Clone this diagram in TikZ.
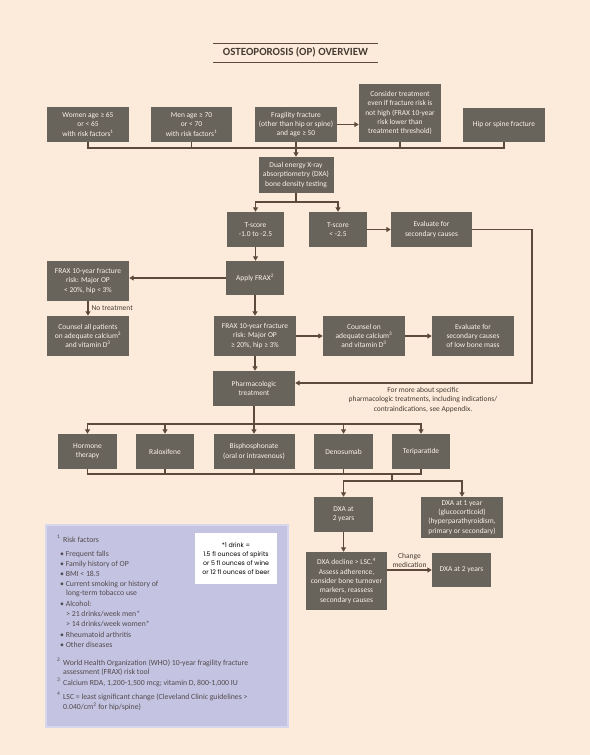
\documentclass[tikz,border=0pt]{standalone}
\usepackage{fontspec}
\setmainfont{Carlito}
\newfontfamily\drinkfont{Poppins}
\usetikzlibrary{arrows.meta}
\definecolor{bgc}{RGB}{252,235,219}
\definecolor{boxc}{RGB}{104,99,91}
\definecolor{boxtext}{RGB}{250,242,232}
\definecolor{linec}{RGB}{94,74,60}
\definecolor{legfill}{RGB}{196,196,226}
\definecolor{legborder}{RGB}{214,214,236}
\definecolor{legtext}{RGB}{82,74,76}
\definecolor{titlec}{RGB}{70,60,52}
\newcommand{\boxfont}{\fontsize{7.5}{9.4}\selectfont}
\newcommand{\legfont}{\fontsize{7.8}{9.4}\selectfont}
\tikzset{
  box/.style={fill=boxc,text=boxtext,align=center,inner sep=1bp,font=\boxfont},
  conn/.style={draw=linec,line width=1.1bp},
  arr/.style={conn,-{Triangle[width=5bp,length=4.5bp]}},
  legline/.style={anchor=west,inner sep=0pt,text=legtext,font=\legfont},
}
\begin{document}
\begin{tikzpicture}[x=1bp,y=-1bp]
\useasboundingbox (0,0) rectangle (590,755);
\fill[bgc] (0,0) rectangle (590,755);

% title
\node[font=\fontsize{11}{13}\selectfont\bfseries,text=titlec] (title) at (295.5,52.5) {OSTEOPOROSIS (OP) OVERVIEW};
\coordinate (tl1) at (213,43); \coordinate (tr1) at (378,43);
\coordinate (tl2) at (213,62); \coordinate (tr2) at (378,62);
\draw[draw=linec,line width=0.8bp] (tl1) -- (tr1);
\draw[draw=linec,line width=0.8bp] (tl2) -- (tr2);

% top row
\node[box,minimum width=82bp,minimum height=35bp] (women) at (88,124.5) {Women age ≥ 65\\or < 65\\with risk factors\textsuperscript{1}};
\node[box,minimum width=81bp,minimum height=35bp] (men) at (191.5,124.5) {Men age ≥ 70\\or < 70\\with risk factors\textsuperscript{1}};
\node[box,minimum width=82bp,minimum height=35bp] (frag) at (296,124.5) {Fragility fracture\\(other than hip or spine)\\and age ≥ 50};
\node[box,minimum width=82bp,minimum height=58bp] (consider) at (400,113) {Consider treatment\\even if fracture risk is\\not high (FRAX 10-year\\risk lower than\\treatment threshold)};
\node[box,minimum width=82bp,minimum height=34bp] (hip) at (504,125) {Hip or spine fracture};

\node[box,minimum width=75bp,minimum height=36bp] (dxa) at (296,175) {Dual energy X-ray\\absorptiometry (DXA)\\bone density testing};
\node[box,minimum width=57bp,minimum height=35bp] (ts1) at (255.5,229.5) {T-score\\-1.0 to -2.5};
\node[box,minimum width=58bp,minimum height=35bp] (ts2) at (338,229.5) {T-score\\< -2.5};
\node[box,minimum width=81bp,minimum height=35bp] (evalA) at (431.5,229.5) {Evaluate for\\secondary causes};
\node[box,minimum width=58bp,minimum height=34bp] (frax) at (255,278) {Apply FRAX\textsuperscript{2}};
\node[box,minimum width=82bp,minimum height=40bp] (fraxlow) at (88,281) {FRAX 10-year fracture\\risk: Major OP\\< 20\%, hip < 3\%};
\node[box,minimum width=82bp,minimum height=40bp] (counselAll) at (88,336) {Counsel all patients\\on adequate calcium\textsuperscript{3}\\and vitamin D\textsuperscript{3}};
\node[box,minimum width=82bp,minimum height=40bp] (fraxhigh) at (255,336) {FRAX 10-year fracture\\risk: Major OP\\≥ 20\%, hip ≥ 3\%};
\node[box,minimum width=82bp,minimum height=40bp] (counselOn) at (364,336) {Counsel on\\adequate calcium\textsuperscript{3}\\and vitamin D\textsuperscript{3}};
\node[box,minimum width=82bp,minimum height=40bp] (evalB) at (473,336) {Evaluate for\\secondary causes\\of low bone mass};
\node[box,minimum width=82bp,minimum height=35bp] (pharm) at (254,388.5) {Pharmacologic\\treatment};

\node[box,minimum width=59bp,minimum height=35bp] (hormone) at (87.5,451.5) {Hormone\\therapy};
\node[box,minimum width=58bp,minimum height=35bp] (ralox) at (165,451.5) {Raloxifene};
\node[box,minimum width=81bp,minimum height=35bp] (bisph) at (254,451.5) {Bisphosphonate\\(oral or intravenous)};
\node[box,minimum width=59bp,minimum height=35bp] (denos) at (343.5,451.5) {Denosumab};
\node[box,minimum width=58bp,minimum height=35bp] (terip) at (421,451.5) {Teriparatide};

\node[box,minimum width=59bp,minimum height=35bp] (dxa2) at (343.5,514.5) {DXA at\\2 years};
\node[box,minimum width=82bp,minimum height=41bp] (dxa1) at (462,517.5) {DXA at 1 year\\(glucocorticoid)\\(hyperparathyroidism,\\primary or secondary)};
\node[box,minimum width=81bp,minimum height=58bp] (decline) at (346.5,581) {DXA decline > LSC.\textsuperscript{4}\\Assess adherence,\\consider bone turnover\\markers, reassess\\secondary causes};
\node[box,minimum width=59bp,minimum height=34bp] (dxa2b) at (461.5,570) {DXA at 2 years};

% connectors top
\coordinate (busL) at (88,148);
\coordinate (busR) at (504,148);
\draw[conn] (women.south) -- (busL) -- (busR) -- (hip.south);
\draw[conn] (men.south) -- (men.south |- busL);
\draw[conn] (consider.south) -- (consider.south |- busL);
\draw[arr] (frag.south) -- (dxa.north);
\draw[arr] (frag.east) -- (consider.west |- frag.east);

\coordinate (split) at (296,202);
\draw[conn] (dxa.south) -- (split);
\draw[arr] (split) -| (ts1.north);
\draw[arr] (split) -| (ts2.north);
\draw[arr] (ts2.east) -- (evalA.west);
\coordinate (rc) at (532,383);
\draw[arr] (evalA.east) -| (rc) -- (pharm.east |- rc);

\draw[arr] (ts1.south) -- (ts1.south |- frax.north);
\draw[arr] (frax.west) -- (fraxlow.east |- frax.west);
\draw[arr] (fraxlow.south) -- (counselAll.north) node[midway,right,xshift=2bp,font=\fontsize{7.5}{9}\selectfont,text=titlec,inner sep=1bp] (notreat) {No treatment};
\draw[arr] (frax.south) -- (fraxhigh.north);
\draw[arr] (fraxhigh.east) -- (counselOn.west);
\draw[arr] (counselOn.east) -- (evalB.west);
\draw[arr] (fraxhigh.south) -- (fraxhigh.south |- pharm.north);

\node[align=center,font=\fontsize{7.5}{9.2}\selectfont,text=titlec] (note) at (423,400) {For more about specific\\pharmacologic treatments, including indications/\\contraindications, see Appendix.};

% treatments
\coordinate (tb) at (254,424);
\draw[conn] (pharm.south) -- (tb);
\draw[arr] (tb) -| (hormone.north);
\draw[arr] (tb) -| (ralox.north);
\draw[arr] (tb) -- (bisph.north);
\draw[arr] (tb) -| (denos.north);
\draw[arr] (tb) -| (terip.north);

\coordinate (bb) at (392,474);
\coordinate (bs) at (392,481);
\draw[conn] (hormone.south) |- (bb);
\draw[conn] (terip.south) |- (bb);
\draw[conn] (ralox.south) -- (ralox.south |- bb);
\draw[conn] (bisph.south) -- (bisph.south |- bb);
\draw[conn] (denos.south) -- (denos.south |- bb);
\draw[conn] (bb) -- (bs);
\draw[arr] (bs) -| (dxa2.north);
\draw[arr] (bs) -| (dxa1.north);
\draw[arr] (dxa2.south) -- (dxa2.south |- decline.north);
\draw[arr] (decline.east |- dxa2b.west) -- (dxa2b.west) node[midway,above,align=center,font=\fontsize{7.5}{8.8}\selectfont,text=titlec,inner sep=2bp] (chg) {Change\\medication};

% legend
\filldraw[fill=legfill,draw=legborder,line width=2.5bp] (46,525) rectangle (288,727);
\node[fill=white,minimum width=82bp,minimum height=51bp,align=center,inner sep=1bp,font=\drinkfont\fontsize{6.3}{9}\selectfont,text=black] (drink) at (236,558.5) {*1 drink =\\1.5 fl ounces of spirits\\or 5 fl ounces of wine\\or 12 fl ounces of beer};

\node[legline] (f1) at (57,538) {\textsuperscript{1}};
\node[legline] (l1) at (63,540) {Risk factors};
\node[legline] (b1) at (60,554) {• Frequent falls};
\node[legline] (b2) at (60,564) {• Family history of OP};
\node[legline] (b3) at (60,573.5) {• BMI < 18.5};
\node[legline] (b4) at (60,584) {• Current smoking or history of};
\node[legline] (b4b) at (66,593.5) {long-term tobacco use};
\node[legline] (b5) at (60,603.5) {• Alcohol:};
\node[legline] (b5a) at (66,613.5) {> 21 drinks/week men*};
\node[legline] (b5b) at (66,624) {> 14 drinks/week women*};
\node[legline] (b6) at (60,634.5) {• Rheumatoid arthritis};
\node[legline] (b7) at (60,644.5) {• Other diseases};
\node[legline] (f2) at (57,661) {\textsuperscript{2}};
\node[legline] (l2) at (63,663) {World Health Organization (WHO) 10-year fragility fracture};
\node[legline] (l2b) at (63,672.5) {assessment (FRAX) risk tool};
\node[legline] (f3) at (57,681) {\textsuperscript{3}};
\node[legline] (l3) at (63,683) {Calcium RDA, 1,200-1,500 mcg; vitamin D, 800-1,000 IU};
\node[legline] (f4) at (57,695) {\textsuperscript{4}};
\node[legline] (l4) at (63,697) {LSC = least significant change (Cleveland Clinic guidelines >};
\node[legline] (l4b) at (63,706.5) {0.040/cm\textsuperscript{2} for hip/spine)};
\end{tikzpicture}
\end{document}
